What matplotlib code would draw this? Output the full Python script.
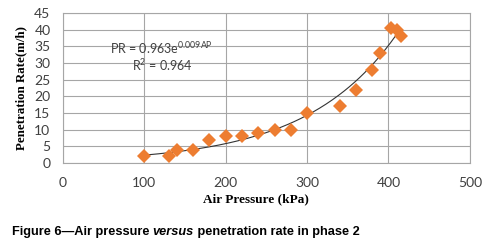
import numpy as np
import matplotlib
matplotlib.use("Agg")
import matplotlib.pyplot as plt

plt.rcParams["mathtext.fontset"] = "custom"
plt.rcParams["mathtext.rm"] = "Lato"
plt.rcParams["mathtext.it"] = "Lato:italic"

air_pressure = [100, 130, 140, 160, 180, 200, 220, 240, 260, 280, 300, 340, 360, 380, 390, 403, 410, 415]
pen_rate = [2, 2, 4, 4, 7, 8, 8, 9, 10, 10, 15, 17, 22, 28, 33, 40.5, 40, 38]
fit_a, fit_b = 0.963, 0.009
x_ticks = [0, 100, 200, 300, 400, 500]
y_ticks = [0, 5, 10, 15, 20, 25, 30, 35, 40, 45]

fig = plt.figure(figsize=(4.92, 2.43), dpi=100)
ax = fig.add_axes([0.128, 0.329, 0.827, 0.618])

xf = np.linspace(min(air_pressure), max(air_pressure), 200)
ax.plot(xf, fit_a * np.exp(fit_b * xf), color="#333333", lw=0.8, zorder=2)
ax.plot(air_pressure, pen_rate, linestyle="none", marker="D", markersize=6.8,
        color="#ED7D31", markeredgewidth=0, zorder=3)

ax.set_xlim(0, 500)
ax.set_ylim(0, 45)
ax.set_xticks(x_ticks)
ax.set_yticks(y_ticks)
ax.grid(True, color="#a6a6a6", lw=0.8)
ax.set_axisbelow(True)
for s in ["top", "right", "left", "bottom"]:
    ax.spines[s].set_color("#a6a6a6")
    ax.spines[s].set_linewidth(0.8)
ax.tick_params(axis="y", length=0, labelsize=10, labelcolor="#404040", pad=9)
ax.tick_params(axis="x", length=0, labelsize=10, labelcolor="#404040", pad=10)
for lab in ax.get_xticklabels() + ax.get_yticklabels():
    lab.set_family("Lato")

ax.set_xlabel("Air Pressure (kPa)", family="Liberation Serif", fontweight="bold",
              fontsize=9.5, labelpad=2)
ax.xaxis.set_label_coords(0.475, -0.2)
ax.set_ylabel("Penetration Rate(m/h)", family="Liberation Serif", fontweight="bold",
              fontsize=9.3, labelpad=5)

ax.text(121, 34.5, r"PR = 0.963e$^{\mathregular{0.009AP}}$", ha="center", va="center",
        fontsize=9, color="#404040", family="Lato")
ax.text(122, 29.4, r"R$^{\mathregular{2}}$ = 0.964", ha="center", va="center",
        fontsize=9, color="#404040", family="Lato")

cap_y = 0.045
cap_fs = 9.2
t1 = fig.text(0.024, cap_y, "Figure 6\u2014Air pressure ", fontsize=cap_fs, fontweight="bold",
              family="Liberation Sans", ha="left", va="center")
fig.canvas.draw()
bb = t1.get_window_extent()
x2 = bb.x1 / fig.bbox.width
t2 = fig.text(x2, cap_y, "versus", fontsize=cap_fs, fontweight="bold", fontstyle="italic",
              family="Liberation Sans", ha="left", va="center")
fig.canvas.draw()
bb2 = t2.get_window_extent()
x3 = bb2.x1 / fig.bbox.width
fig.text(x3, cap_y, " penetration rate in phase 2", fontsize=cap_fs, fontweight="bold",
         family="Liberation Sans", ha="left", va="center")

fig.savefig("out.png", dpi=100)
